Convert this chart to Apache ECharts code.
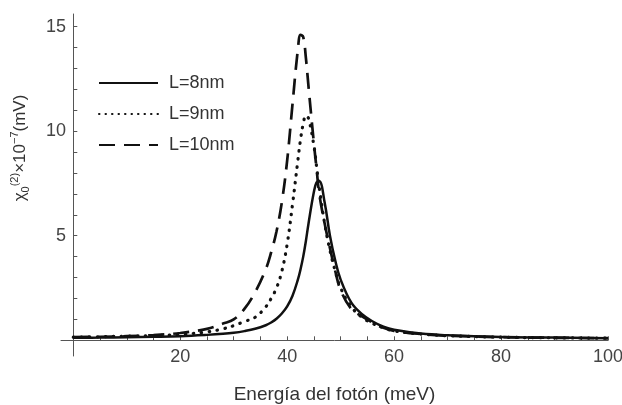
<!DOCTYPE html>
<html>
<head>
<meta charset="utf-8">
<script src="https://cdn.jsdelivr.net/npm/echarts@6/dist/echarts.min.js"></script>
<style>
  html, body { margin: 0; padding: 0; background: #fff; }
  #main { width: 622px; height: 405px; }
</style>
</head>
<body>
<div id="main"></div>
<script>
// energia del foton (meV)
var energies = [0, 5, 10, 15, 20, 25, 28, 30, 32, 34, 36, 37, 38, 39, 40, 41, 42, 42.5, 43, 43.5, 44, 45, 45.5, 46, 47, 48, 49, 50, 52, 54, 56, 58, 60, 65, 70, 80, 90, 100]
// chi0^(2) x 10^-7 (mV)
var l8 = [0.12, 0.13, 0.15, 0.17, 0.2, 0.26, 0.31, 0.36, 0.44, 0.55, 0.72, 0.85, 1.03, 1.28, 1.62, 2.13, 2.9, 3.4, 4.0, 4.75, 5.6, 7.1, 7.55, 7.6, 6.6, 5.0, 3.8, 2.9, 1.8, 1.25, 0.9, 0.65, 0.5, 0.32, 0.24, 0.16, 0.13, 0.1]
var l9 = [0.15, 0.17, 0.2, 0.22, 0.28, 0.4, 0.55, 0.7, 0.9, 1.1, 1.6, 2.0, 2.5, 3.3, 4.6, 6.5, 8.6, 9.6, 10.35, 10.75, 10.6, 9.3, 8.3, 7.3, 5.6, 4.3, 3.3, 2.5, 1.6, 1.1, 0.8, 0.6, 0.45, 0.3, 0.22, 0.15, 0.12, 0.1]
var l10 = [0.15, 0.17, 0.2, 0.25, 0.35, 0.55, 0.8, 1.0, 1.5, 2.3, 3.4, 4.2, 5.2, 6.6, 8.6, 11.3, 13.9, 14.6, 14.5, 13.5, 12.1, 9.4, 8.2, 7.0, 5.6, 4.4, 3.3, 2.4, 1.5, 1.15, 0.85, 0.6, 0.45, 0.3, 0.22, 0.15, 0.12, 0.1]
var names = ['L=8nm', 'L=9nm', 'L=10nm']
var xTicks = [5, 10, 15, 20, 25, 30, 35, 40, 45, 50, 55, 60, 65, 70, 75, 80, 85, 90, 95, 100]
var xLabels = [20, 40, 60, 80, 100]
var yTicks = [1, 2, 3, 4, 5, 6, 7, 8, 9, 10, 11, 12, 13, 14, 15]
var yLabels = [5, 10, 15]

function pairs (ys) {
  return energies.map(function (e, i) { return [e, ys[i]] })
}

var font = 'Liberation Sans, Arial, sans-serif'
var ink = '#111'
var dotted = [0.5, 7.5]
var dashed = [16, 9]

var myChart = echarts.init(document.getElementById('main'))

myChart.setOption({
  backgroundColor: '#fff',
  animation: false,
  grid: { left: 61, right: 14, top: 14, bottom: 49, outerBoundsMode: 'none', containLabel: false },
  legend: {
    orient: 'vertical',
    left: 93,
    top: 69,
    itemWidth: 59,
    itemHeight: 14,
    itemGap: 13,
    itemStyle: { opacity: 0 },
    textStyle: { color: '#333', fontSize: 18, fontFamily: font, padding: [0, 0, 0, 6] },
    data: [
      { name: names[0] },
      { name: names[1], lineStyle: { type: [0.5, 6] } },
      { name: names[2] }
    ]
  },
  xAxis: {
    type: 'value',
    min: -2.3,
    max: 100,
    name: 'Energía del fotón (meV)',
    nameLocation: 'middle',
    nameGap: 29,
    nameTextStyle: { color: '#333', fontSize: 19, fontFamily: font },
    axisLine: { onZero: true, lineStyle: { color: '#555', width: 1 } },
    axisTick: { show: true, inside: true, length: 4, customValues: xTicks, lineStyle: { color: '#555' } },
    axisLabel: { customValues: xLabels, color: '#444', fontSize: 18, fontFamily: font, margin: -8 },
    splitLine: { show: false }
  },
  yAxis: {
    type: 'value',
    min: -0.75,
    max: 15.6,
    name: '{a|χ}{sub|0}{sup|(2)}{a|×10}{sup|−7}{a|(mV)}',
    nameLocation: 'middle',
    nameRotate: 90,
    nameGap: 30,
    nameTextStyle: {
      color: '#333',
      fontFamily: font,
      padding: [0, 0, 0, 74],
      rich: {
        a: { fontSize: 17, lineHeight: 22, color: '#333', fontFamily: font },
        sup: { fontSize: 11, verticalAlign: 'top', lineHeight: 22, color: '#333', fontFamily: font },
        sub: { fontSize: 11, verticalAlign: 'bottom', lineHeight: 22, color: '#333', fontFamily: font }
      }
    },
    axisLine: { onZero: true, lineStyle: { color: '#555', width: 1 } },
    axisTick: { show: true, inside: true, length: 4, customValues: yTicks, lineStyle: { color: '#555' } },
    axisLabel: { customValues: yLabels, color: '#444', fontSize: 18, fontFamily: font, margin: -5 },
    splitLine: { show: false }
  },
  series: [
    {
      name: names[0],
      type: 'line',
      data: pairs(l8),
      symbol: 'none',
      smooth: 0.4,
      lineStyle: { color: ink, width: 2.5, type: 'solid' },
      itemStyle: { color: ink },
      z: 3
    },
    {
      name: names[1],
      type: 'line',
      data: pairs(l9),
      symbol: 'none',
      smooth: 0.4,
      lineStyle: { color: ink, width: 3.2, type: dotted, cap: 'round' },
      itemStyle: { color: ink },
      z: 2
    },
    {
      name: names[2],
      type: 'line',
      data: pairs(l10),
      symbol: 'none',
      smooth: 0.4,
      lineStyle: { color: ink, width: 2.7, type: dashed },
      itemStyle: { color: ink },
      z: 1
    }
  ]
})
</script>
</body>
</html>
